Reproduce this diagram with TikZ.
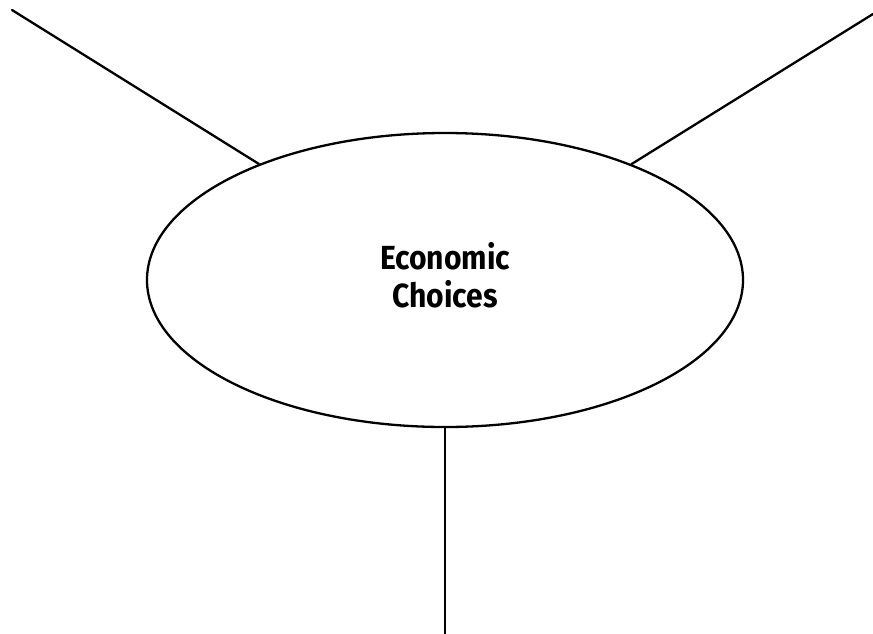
\documentclass[tikz,border=0pt]{standalone}
\usepackage{fontspec}
\setmainfont{Fira Sans}
\usetikzlibrary{shapes.geometric}
\begin{document}
\begin{tikzpicture}[x=1pt,y=-1pt,
  spoke/.style={line width=2.3pt,line cap=round},
  hub/.style={ellipse,draw,line width=2.3pt,minimum width=596pt,minimum height=294pt,inner sep=0pt},
  caption/.style={align=center,inner sep=0pt,font=\fontsize{33.4}{38}\selectfont\bfseries}]
  \useasboundingbox (0,0) rectangle (873,633);
  % central ellipse and its title
  \node[hub] (e) at (445,280) {};
  \node[caption] (title) at (445,275.5) {\scalebox{0.9}[1]{Economic}\\\scalebox{0.9}[1]{Choices}};
  % free ends of the three spokes
  \coordinate (tl) at (12,10);
  \coordinate (tr) at (873,14);
  \coordinate (bt) at (445,640);
  \draw[spoke] (tl) -- (e);
  \draw[spoke] (tr) -- (e);
  \draw[spoke] (bt) -- (e);
\end{tikzpicture}
\end{document}
